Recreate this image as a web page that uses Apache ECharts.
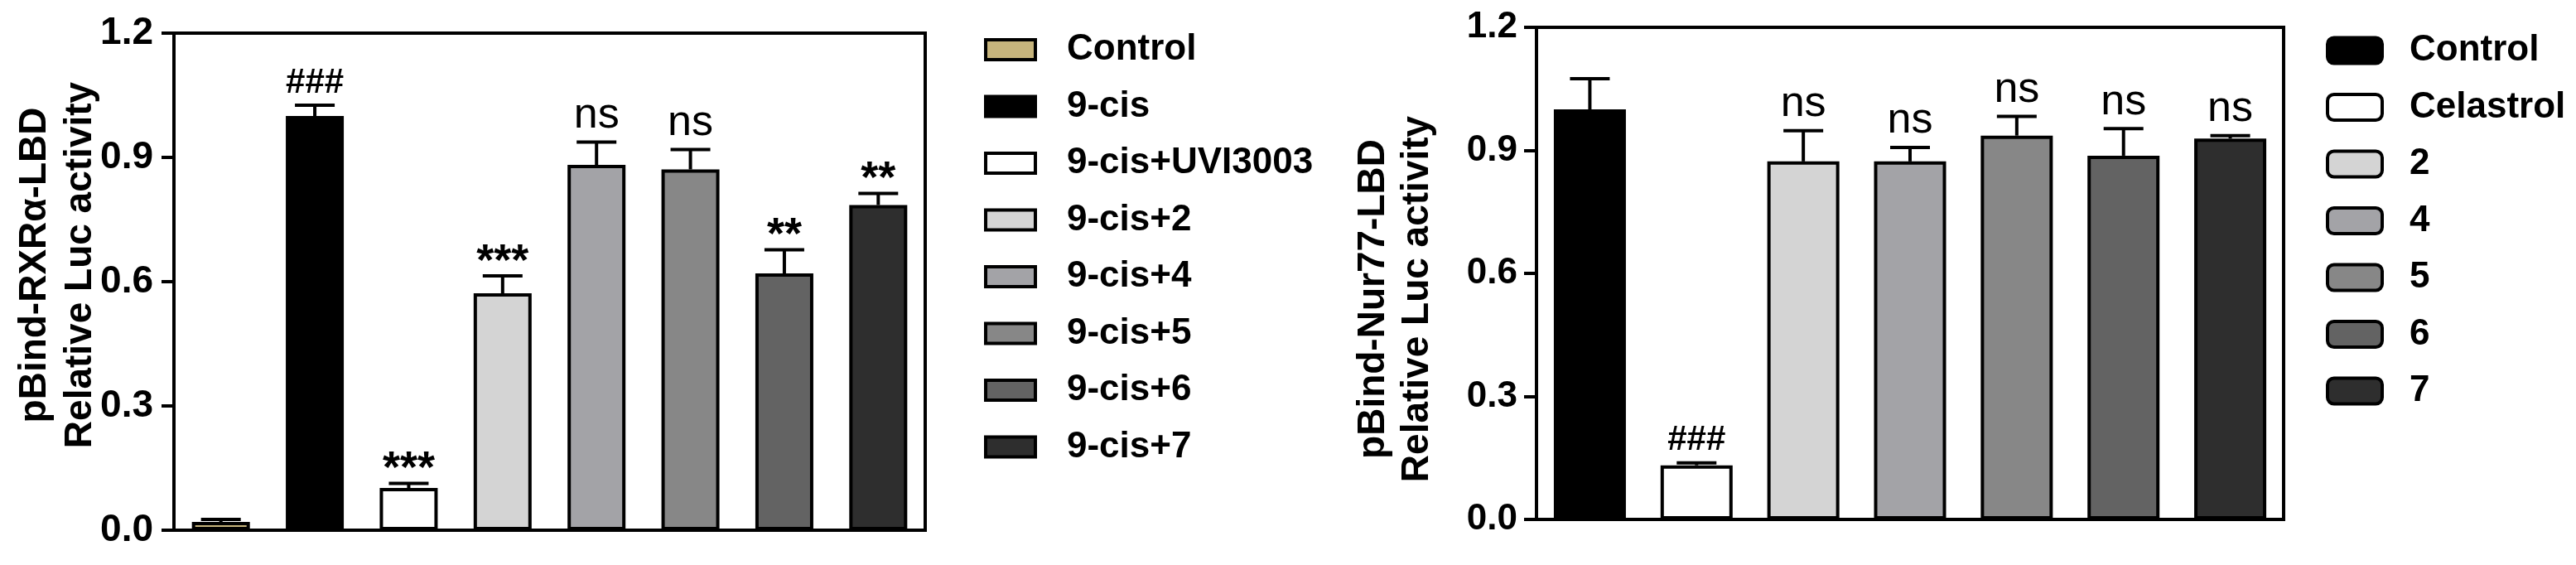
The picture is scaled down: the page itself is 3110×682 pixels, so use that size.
<!DOCTYPE html>
<html>
<head>
<meta charset="utf-8">
<script src="https://cdn.jsdelivr.net/npm/echarts@6/dist/echarts.min.js"></script>
<style>
  html, body { margin: 0; padding: 0; background: #fff; }
  #chart { width: 3110px; height: 682px; }
</style>
</head>
<body>
<div id="chart"></div>
<script>
// left panel: pBind-RXRα-LBD
const leftCats = ['Control', '9-cis', '9-cis+UVI3003', '9-cis+2', '9-cis+4', '9-cis+5', '9-cis+6', '9-cis+7']
const leftMeans = [0.02, 1.0, 0.102, 0.572, 0.882, 0.871, 0.62, 0.785]
const leftErrs = [0.006, 0.026, 0.011, 0.042, 0.055, 0.048, 0.057, 0.028]
const leftMarks = ['', '###', '***', '***', 'ns', 'ns', '**', '**']
const leftColors = ['#c6b47c', '#000000', '#ffffff', '#d4d4d4', '#a3a3a7', '#878787', '#636363', '#2e2e2e']

// right panel: pBind-Nur77-LBD
const rightCats = ['Control', 'Celastrol', '2', '4', '5', '6', '7']
const rightMeans = [1.0, 0.132, 0.873, 0.873, 0.936, 0.887, 0.929]
const rightErrs = [0.075, 0.006, 0.075, 0.034, 0.047, 0.066, 0.007]
const rightMarks = ['', '###', 'ns', 'ns', 'ns', 'ns', 'ns']
const rightColors = ['#000000', '#ffffff', '#d4d4d4', '#a3a3a7', '#878787', '#636363', '#2e2e2e']

const yTicks = [0, 0.3, 0.6, 0.9, 1.2]

const FONT = "'Liberation Sans', Arial, sans-serif"

function markStyle(mark) {
  if (mark === 'ns') return { font: '52px ' + FONT, dy: -6, va: 'bottom' }
  if (mark.startsWith('#')) return { font: 'bold 42px ' + FONT, dy: -6, va: 'bottom' }
  return { font: 'bold 54px ' + FONT, dy: -16, va: 'middle' }
}

function errorRenderer(marks) {
  return function (params, api) {
    const i = api.value(0)
    const v = api.value(1)
    const e = api.value(2)
    const top = api.coord([i, v])
    const cap = api.coord([i, v + e])
    const children = [
      { type: 'line', shape: { x1: top[0], y1: top[1], x2: cap[0], y2: cap[1] }, style: { stroke: '#000', lineWidth: 4 } },
      { type: 'line', shape: { x1: cap[0] - 24, y1: cap[1], x2: cap[0] + 24, y2: cap[1] }, style: { stroke: '#000', lineWidth: 4 } }
    ]
    const mark = marks[params.dataIndex]
    if (mark) {
      const s = markStyle(mark)
      children.push({
        type: 'text', x: cap[0], y: cap[1] + s.dy,
        style: { text: mark, font: s.font, fill: '#000', align: 'center', verticalAlign: s.va }
      })
    }
    return { type: 'group', children }
  }
}

// series names carry a panel prefix so the two "Control" entries stay apart
function barSeries(panel, cats, means, colors, axisIdx, width) {
  return cats.map((name, k) => ({
    name: panel + '|' + name,
    type: 'bar',
    stack: 'g' + axisIdx,
    xAxisIndex: axisIdx,
    yAxisIndex: axisIdx,
    barWidth: width,
    itemStyle: { color: colors[k], borderColor: '#000', borderWidth: 4 },
    data: means.map((m, j) => (j === k ? m : '-'))
  }))
}

function yAxisCfg(grid, margin, size) {
  return {
    type: 'value', gridIndex: grid, min: 0, max: 1.2, interval: 0.3,
    axisLine: { show: true, lineStyle: { color: '#000', width: 4 } },
    axisTick: { show: true, length: 15, lineStyle: { color: '#000', width: 4 } },
    splitLine: { show: false },
    axisLabel: {
      margin, fontSize: size, fontWeight: 'bold', color: '#000', fontFamily: FONT,
      formatter: v => (yTicks.includes(+v.toFixed(1)) ? v.toFixed(1) : '')
    }
  }
}

function xAxisCfg(grid, cats) {
  return {
    type: 'category', gridIndex: grid, data: cats,
    axisLine: { lineStyle: { color: '#000', width: 4 } },
    axisTick: { alignWithLabel: true, length: 18, lineStyle: { color: '#000', width: 4 } },
    axisLabel: { show: false }
  }
}

function legendCfg(panel, cats, left, top, w, h, icon, pad) {
  return {
    data: cats.map(c => panel + '|' + c), orient: 'vertical', left, top,
    icon, itemWidth: w, itemHeight: h, itemGap: 24.5,
    selectedMode: false,
    itemStyle: { borderColor: '#000', borderWidth: 4 },
    formatter: name => '{s|}' + name.split('|')[1],
    textStyle: {
      fontSize: 44, fontWeight: 'bold', color: '#000', fontFamily: FONT, lineHeight: 44,
      rich: { s: { width: pad } }
    }
  }
}

const chart = echarts.init(document.getElementById('chart'), null, { renderer: 'canvas' })

chart.setOption({
  animation: false,
  backgroundColor: '#fff',
  grid: [
    { left: 210, top: 40, width: 907, height: 600, show: true, borderColor: '#000', borderWidth: 4 },
    { left: 1855, top: 33, width: 902, height: 594, show: true, borderColor: '#000', borderWidth: 4 }
  ],
  xAxis: [xAxisCfg(0, leftCats), xAxisCfg(1, rightCats)],
  yAxis: [yAxisCfg(0, 25, 46), yAxisCfg(1, 23, 44)],
  legend: [
    legendCfg('L', leftCats, 1183, 33, 60, 24, 'rect', 33),
    legendCfg('R', rightCats, 2803, 34, 66, 31, 'roundRect', 28)
  ],
  graphic: [
    {
      type: 'text', x: 70, y: 320, rotation: Math.PI / 2,
      style: {
        text: 'pBind-RXRα-LBD\nRelative Luc activity', font: 'bold 46px ' + FONT,
        lineHeight: 55, fill: '#000', align: 'center', verticalAlign: 'middle'
      }
    },
    {
      type: 'text', x: 1685, y: 361, rotation: Math.PI / 2,
      style: {
        text: 'pBind-Nur77-LBD\nRelative Luc activity', font: 'bold 46px ' + FONT,
        lineHeight: 53, fill: '#000', align: 'center', verticalAlign: 'middle'
      }
    }
  ],
  series: [
    ...barSeries('L', leftCats, leftMeans, leftColors, 0, 70),
    ...barSeries('R', rightCats, rightMeans, rightColors, 1, 87),
    {
      type: 'custom', xAxisIndex: 0, yAxisIndex: 0, z: 5,
      renderItem: errorRenderer(leftMarks),
      encode: { x: 0, y: 1 },
      data: leftMeans.map((m, i) => [i, m, leftErrs[i]])
    },
    {
      type: 'custom', xAxisIndex: 1, yAxisIndex: 1, z: 5,
      renderItem: errorRenderer(rightMarks),
      encode: { x: 0, y: 1 },
      data: rightMeans.map((m, i) => [i, m, rightErrs[i]])
    }
  ]
})
</script>
</body>
</html>
